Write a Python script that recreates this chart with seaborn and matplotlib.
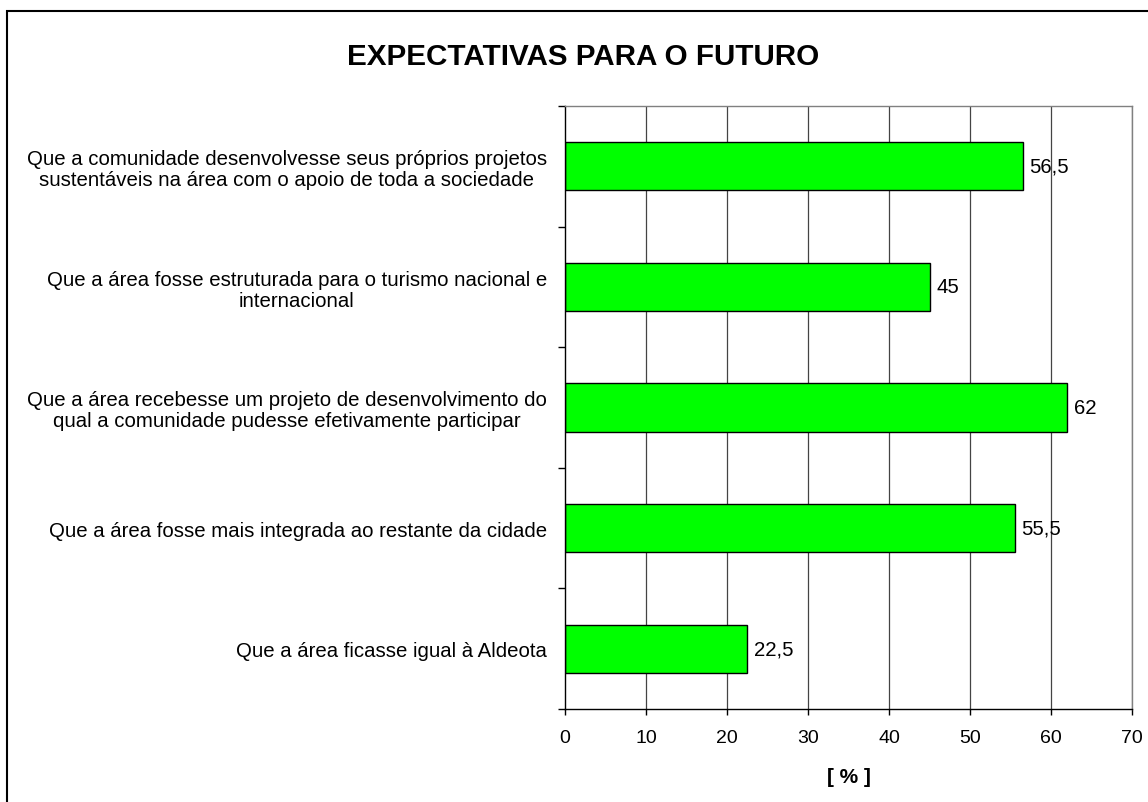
import matplotlib
matplotlib.use("Agg")
import matplotlib.pyplot as plt
import matplotlib.patches as mpatches
import seaborn as sns
import pandas as pd

categories = [
    "Que a comunidade desenvolvesse seus próprios projetos\nsustentáveis na área com o apoio de toda a sociedade",
    "Que a área fosse estruturada para o turismo nacional e\ninternacional",
    "Que a área recebesse um projeto de desenvolvimento do\nqual a comunidade pudesse efetivamente participar",
    "Que a área fosse mais integrada ao restante da cidade",
    "Que a área ficasse igual à Aldeota",
]
values = [56.5, 45, 62, 55.5, 22.5]
x_ticks = [0, 10, 20, 30, 40, 50, 60, 70]
title = "EXPECTATIVAS PARA O FUTURO"
x_label = "[ % ]"

sns.set_theme(style="white")
plt.rcParams["font.family"] = ["Liberation Sans", "DejaVu Sans"]

W, H = 1148, 803
fig = plt.figure(figsize=(W / 100, H / 100), dpi=100)
fig.patch.set_facecolor("white")
ax = fig.add_axes([565 / W, 1 - 710 / H, (1132 - 565) / W, (710 - 107) / H])

df = pd.DataFrame({"label": categories, "value": values})
sns.barplot(data=df, x="value", y="label", orient="h", color="#00FF00",
            saturation=1, edgecolor="black", linewidth=1, width=0.4, ax=ax)

ax.set_xlim(0, 70)
ax.set_ylim(4.5, -0.5)
ax.set_xticks(x_ticks)
ax.set_xticklabels([str(t) for t in x_ticks], fontsize=14, color="black")
ax.tick_params(axis="x", which="major", direction="out", length=4.5,
               width=1, color="black", pad=10, bottom=True)

ax.set_yticks(range(len(categories)))
ax.set_yticklabels(categories, fontsize=14.7, color="black",
                   multialignment="center", linespacing=1.12)
ax.tick_params(axis="y", which="major", length=0, pad=13, left=True)
ax.set_yticks([i - 0.5 for i in range(len(categories) + 1)], minor=True)
ax.tick_params(axis="y", which="minor", direction="out", length=5,
               width=1, color="black", left=True)

ax.set_ylabel("")
ax.set_xlabel(x_label, fontsize=15, fontweight="bold", color="black", va="center")
ax.xaxis.set_label_coords(0.5, -(778 - 710) / (710 - 107))

ax.grid(False)
ax.set_axisbelow(True)
for t in x_ticks[1:]:
    ax.axvline(t, color="#444444", lw=0.9, zorder=0)

for side in ["left", "bottom"]:
    ax.spines[side].set_color("black")
    ax.spines[side].set_linewidth(1)
for side in ["top", "right"]:
    ax.spines[side].set_color("#808080")
    ax.spines[side].set_linewidth(1)
    ax.spines[side].set_visible(True)

labels = [f"{v:g}".replace(".", ",") for v in values]
ax.bar_label(ax.containers[0], labels=labels, padding=5, fontsize=14.7, color="black")

fig.text(583 / W, 1 - 57 / H, title, ha="center", va="center",
         fontsize=21.3, fontweight="bold", color="black")

frame = mpatches.Rectangle((7 / W, -0.5), 2, 1.5 - 12 / H, transform=fig.transFigure,
                           fill=False, edgecolor="black", linewidth=1.5, clip_on=False)
fig.patches.append(frame)

fig.savefig("out.png", dpi=100, facecolor="white")
